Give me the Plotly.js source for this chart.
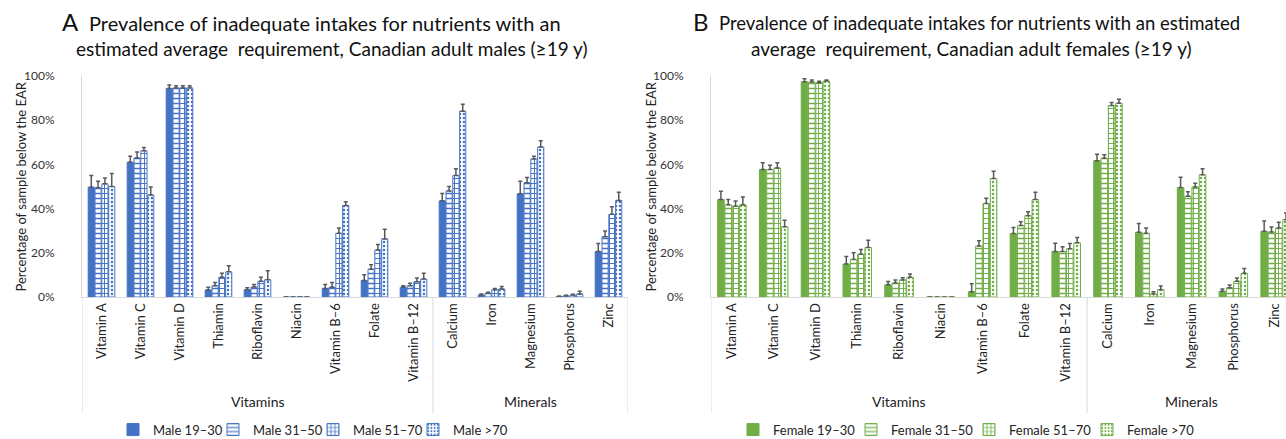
<!DOCTYPE html>
<html>
<head>
<meta charset="utf-8">
<script src="https://cdn.plot.ly/plotly-3.0.1.min.js"></script>
<style>html,body{margin:0;padding:0;background:#fff;}#chart{width:1286px;height:439px;}</style>
</head>
<body>
<div id="chart"></div>
<script>
const categories = ['Vitamin A','Vitamin C','Vitamin D','Thiamin','Riboflavin','Niacin','Vitamin B\u20136','Folate','Vitamin B\u201312','Calcium','Iron','Magnesium','Phosphorus','Zinc'];
const groupLabels = ['Vitamins','Minerals'];

const maleNames = ['Male 19\u201330','Male 31\u201350','Male 51\u201370','Male >70'];
const male1930 = [49.7, 61.0, 94.4, 3.2, 3.3, 0, 3.9, 7.5, 4.4, 43.5, 0.9, 46.7, 0.2, 20.6];
const male1930Err = [5.3, 2.7, 1.5, 1.2, 0.9, 0, 1.8, 2.6, 0.7, 3.3, 0.5, 5.7, 0.2, 3.6];
const male3150 = [49.4, 62.9, 94.6, 5.1, 4.5, 0, 4.4, 12.6, 5.1, 48.0, 1.7, 51.7, 0.5, 27.3];
const male3150Err = [3.0, 2.7, 1.0, 1.5, 1.1, 0, 2.2, 2.0, 1.1, 2.0, 0.4, 2.4, 0.3, 2.6];
const male5170 = [51.2, 66.2, 94.6, 8.9, 7.1, 0, 28.8, 21.3, 6.9, 55.0, 3.3, 62.5, 0.9, 37.4];
const male5170Err = [2.6, 1.5, 1.0, 1.8, 1.8, 0, 2.4, 2.4, 1.7, 3.0, 0.6, 1.2, 0.3, 3.4];
const male70 = [50.0, 46.2, 94.6, 11.4, 7.8, 0, 41.4, 26.3, 8.1, 84.1, 3.6, 67.9, 1.4, 43.7];
const male70Err = [5.9, 3.6, 1.0, 2.7, 4.1, 0, 1.7, 4.3, 2.6, 3.1, 1.1, 2.8, 1.2, 3.7];

const femaleNames = ['Female 19\u201330','Female 31\u201350','Female 51\u201370','Female >70'];
const female1930 = [44.1, 57.7, 97.4, 14.9, 5.5, 0, 2.4, 28.7, 20.6, 61.7, 29.3, 49.5, 2.6, 29.7];
const female1930Err = [3.8, 3.0, 1.4, 3.4, 1.5, 0, 3.6, 2.8, 3.7, 2.9, 4.0, 4.7, 1.0, 4.7];
const female3150 = [41.7, 57.7, 97.3, 17.0, 6.3, 0, 23.1, 32.3, 20.6, 62.8, 28.8, 45.6, 4.2, 29.4];
const female3150Err = [2.4, 1.9, 0.9, 3.0, 1.4, 0, 2.3, 1.8, 2.1, 1.6, 2.4, 2.0, 1.2, 2.3];
const female5170 = [41.1, 58.4, 97.0, 19.4, 7.7, 0, 42.3, 36.8, 21.8, 86.6, 1.4, 49.8, 7.1, 31.2];
const female5170Err = [2.3, 2.3, 0.6, 2.1, 1.0, 0, 2.4, 1.8, 2.4, 1.4, 1.0, 1.7, 1.5, 2.6];
const female70 = [41.7, 31.8, 97.7, 22.4, 8.9, 0, 53.6, 44.1, 24.5, 87.7, 3.3, 55.3, 10.7, 35.0];
const female70Err = [3.5, 2.9, 0.5, 3.3, 1.5, 0, 3.3, 3.3, 2.4, 1.8, 1.7, 2.7, 2.2, 3.0];

const BLUE = '#4472C4', GREEN = '#70AD47', ERR = '#595959';
const FONT = 'Lato, "Open Sans", sans-serif';
const patterns = [
  null,
  {shape: '-', size: 5, solidity: 0.3},
  {shape: '+', size: 5, solidity: 0.35},
  {shape: '.', size: 4, solidity: 0.3}
];

function makeTrace(name, vals, errs, color, idx, xa, ya, legend) {
  const p = patterns[idx];
  const marker = {color: color, line: {color: color, width: 1}};
  if (p) marker.pattern = {shape: p.shape, size: p.size, solidity: p.solidity, fgcolor: color, bgcolor: '#ffffff', fillmode: 'replace'};
  return {
    type: 'bar', name: name, x: categories, y: vals, xaxis: xa, yaxis: ya, legend: legend,
    marker: marker,
    error_y: {type: 'data', array: errs, arrayminus: errs.map(() => 0), symmetric: false, color: ERR, thickness: 1.5, width: 2},
    hoverinfo: 'skip'
  };
}

const maleVals = [male1930, male3150, male5170, male70];
const maleErrs = [male1930Err, male3150Err, male5170Err, male70Err];
const femaleVals = [female1930, female3150, female5170, female70];
const femaleErrs = [female1930Err, female3150Err, female5170Err, female70Err];

const data = [];
for (let i = 0; i < 4; i++) data.push(makeTrace(maleNames[i], maleVals[i], maleErrs[i], BLUE, i, 'x', 'y', 'legend'));
for (let i = 0; i < 4; i++) data.push(makeTrace(femaleNames[i], femaleVals[i], femaleErrs[i], GREEN, i, 'x2', 'y2', 'legend2'));

const W = 1286;
const py = p => 1 + (76 - p) / 221;
const axisX = {
  type: 'category', showline: true, linecolor: '#d9d9d9', linewidth: 1, ticks: '', tickangle: -90,
  tickfont: {family: FONT, size: 13, color: '#222'}, showgrid: false, zeroline: false, fixedrange: true
};
const axisY = {
  range: [0, 100], dtick: 20, ticksuffix: '%', showline: true, linecolor: '#d9d9d9', linewidth: 1, ticks: '',
  showgrid: false, zeroline: false, tickfont: {family: FONT, size: 12, color: '#333'}, ticklabelstandoff: 24
};

const divY = -0.525;
const shapes = [];
[-0.5, 8.5, 13.5].forEach(v => {
  shapes.push({type: 'line', xref: 'x', yref: 'paper', x0: v, x1: v, y0: 0, y1: divY, line: {color: '#d9d9d9', width: 1}});
  shapes.push({type: 'line', xref: 'x2', yref: 'paper', x0: v, x1: v, y0: 0, y1: divY, line: {color: '#d9d9d9', width: 1}});
});

const annFont = {family: FONT, size: 14, color: '#222'};
const tFont = {family: FONT, size: 19, color: '#111'};
const letterFont = {family: FONT, size: 24, color: '#111'};
const annotations = [
  {xref: 'x', yref: 'paper', x: 4, y: -0.475, text: groupLabels[0], showarrow: false, font: annFont, xanchor: 'center', yanchor: 'middle'},
  {xref: 'x', yref: 'paper', x: 11, y: -0.475, text: groupLabels[1], showarrow: false, font: annFont, xanchor: 'center', yanchor: 'middle'},
  {xref: 'x2', yref: 'paper', x: 4, y: -0.475, text: groupLabels[0], showarrow: false, font: annFont, xanchor: 'center', yanchor: 'middle'},
  {xref: 'x2', yref: 'paper', x: 11, y: -0.475, text: groupLabels[1], showarrow: false, font: annFont, xanchor: 'center', yanchor: 'middle'},
  {xref: 'paper', yref: 'paper', x: 20 / W, y: 0.5, xanchor: 'center', yanchor: 'middle', text: 'Percentage of sample below the EAR', textangle: -90, showarrow: false, font: {family: FONT, size: 13, color: '#222'}},
  {xref: 'paper', yref: 'paper', x: 650 / W, y: 0.5, xanchor: 'center', yanchor: 'middle', text: 'Percentage of sample below the EAR', textangle: -90, showarrow: false, font: {family: FONT, size: 13, color: '#222'}},
  {xref: 'paper', yref: 'paper', x: 70 / W, y: py(22), xanchor: 'center', yanchor: 'middle', showarrow: false, text: 'A', font: letterFont},
  {xref: 'paper', yref: 'paper', x: 87 / W, y: py(23), xanchor: 'left', yanchor: 'middle', showarrow: false,
   text: 'Prevalence of inadequate intakes for nutrients with an', font: {family: FONT, size: 20, color: '#111'}},
  {xref: 'paper', yref: 'paper', x: 332 / W, y: py(48), xanchor: 'center', yanchor: 'middle', showarrow: false,
   text: 'estimated average  requirement, Canadian adult males (\u226519 y)', font: tFont},
  {xref: 'paper', yref: 'paper', x: 701 / W, y: py(22), xanchor: 'center', yanchor: 'middle', showarrow: false, text: 'B', font: letterFont},
  {xref: 'paper', yref: 'paper', x: 717 / W, y: py(23), xanchor: 'left', yanchor: 'middle', showarrow: false,
   text: 'Prevalence of inadequate intakes for nutrients with an estimated', font: {family: FONT, size: 18.5, color: '#111'}},
  {xref: 'paper', yref: 'paper', x: 971 / W, y: py(48), xanchor: 'center', yanchor: 'middle', showarrow: false,
   text: 'average  requirement, Canadian adult females (\u226519 y)', font: tFont}
];

const legendCommon = {orientation: 'h', yanchor: 'middle', y: -0.6, font: {family: FONT, size: 13, color: '#222'},
  bgcolor: 'rgba(0,0,0,0)', itemclick: false, itemdoubleclick: false, entrywidthmode: 'pixels', traceorder: 'normal'};

const layout = {
  width: 1286, height: 439,
  margin: {l: 0, r: 0, t: 76, b: 142, autoexpand: false},
  paper_bgcolor: '#ffffff', plot_bgcolor: '#ffffff',
  barmode: 'group', bargap: 0.3, bargroupgap: 0.1,
  showlegend: true,
  xaxis: Object.assign({}, axisX, {domain: [82 / W, 628 / W], anchor: 'y', range: [-0.5, 13.5], automargin: false}),
  yaxis: Object.assign({}, axisY, {anchor: 'x', automargin: false}),
  xaxis2: Object.assign({}, axisX, {domain: [711 / W, 1], anchor: 'y2', range: [-0.5, 13.26], automargin: false}),
  yaxis2: Object.assign({}, axisY, {anchor: 'x2', automargin: false}),
  legend: Object.assign({}, legendCommon, {x: 113 / W, xanchor: 'left', entrywidth: 55}),
  legend2: Object.assign({}, legendCommon, {x: 733 / W, xanchor: 'left', entrywidth: 73}),
  shapes: shapes,
  annotations: annotations,
  font: {family: FONT}
};

Plotly.newPlot('chart', data, layout, {displayModeBar: false, staticPlot: true});
</script>
</body>
</html>
